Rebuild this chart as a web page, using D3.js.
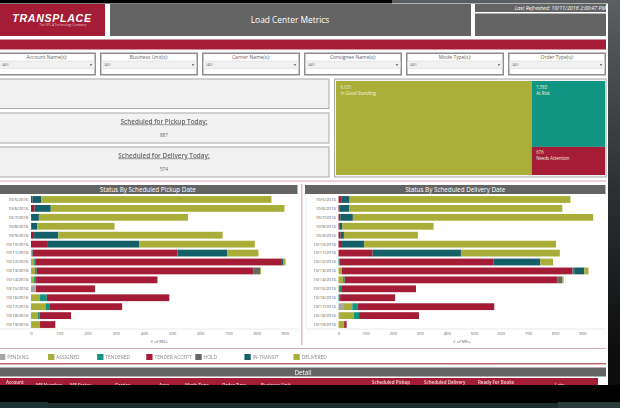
<!DOCTYPE html>
<html>
<head>
<meta charset="utf-8">
<script src="https://d3js.org/d3.v7.min.js"></script>
<style>
    html, body { margin: 0; padding: 0; background: #000; overflow: hidden; }
    svg { display: block; font-family: "Open Sans", sans-serif; }
    #page { filter: blur(0.55px); }
</style>
</head>
<body>
<div id="dash"></div>
<script>
// chart values
var dates = ["10/5/2016", "10/6/2016", "10/7/2016", "10/8/2016", "10/9/2016", "10/10/2016", "10/11/2016", "10/12/2016",
    "10/13/2016", "10/14/2016", "10/15/2016", "10/16/2016", "10/17/2016", "10/18/2016", "10/19/2016"];
var statuses = ["PENDING", "ASSIGNED", "TENDERED", "TENDER ACCEPT", "HOLD", "IN-TRANSIT", "DELIVERED"];
var statusColors = ["#a6a6a6", "#a9ae38", "#109582", "#a51c36", "#666666", "#145f68", "#a9ae38"];

// pickup chart, one list per status
var pickupPending = [0, 0, 0, 0, 0, 0, 0, 0, 0, 0, 18, 0, 0, 0, 0];
var pickupAssigned = [0, 0, 0, 0, 0, 0, 3, 11, 14, 11, 0, 32, 51, 24, 32];
var pickupTendered = [0, 0, 0, 0, 0, 0, 3, 4, 6, 7, 0, 24, 16, 7, 0];
var pickupAccept = [5, 13, 3, 3, 11, 57, 513, 874, 769, 430, 209, 434, 256, 111, 54];
var pickupHold = [0, 0, 0, 0, 0, 0, 0, 0, 23, 0, 0, 0, 0, 0, 0];
var pickupTransit = [32, 57, 25, 19, 86, 326, 176, 4, 0, 0, 0, 0, 0, 0, 0];
var pickupDelivered = [815, 828, 528, 274, 582, 410, 111, 9, 3, 0, 0, 0, 0, 0, 0];

// delivery chart, one list per status
var deliveryPending = [0, 0, 0, 0, 0, 0, 0, 0, 0, 0, 0, 0, 20, 5, 0];
var deliveryAssigned = [0, 0, 0, 0, 0, 0, 0, 0, 13, 17, 2, 0, 31, 51, 21];
var deliveryTendered = [0, 0, 0, 0, 0, 0, 0, 4, 0, 6, 8, 6, 20, 20, 0];
var deliveryAccept = [10, 3, 7, 3, 8, 13, 126, 569, 850, 786, 276, 203, 504, 221, 9];
var deliveryHold = [0, 0, 0, 0, 0, 0, 0, 0, 7, 17, 0, 0, 0, 0, 0];
var deliveryTransit = [31, 37, 46, 11, 12, 82, 326, 172, 37, 0, 0, 0, 0, 0, 0];
var deliveryDelivered = [815, 786, 887, 337, 273, 708, 365, 47, 16, 5, 0, 0, 0, 0, 0];

var xTicks = [0, 100, 200, 300, 400, 500, 600, 700, 800, 900];

// treemap
var standingNames = ["In Good Standing", "At Risk", "Needs Attention"];
var standingValues = [6031, 1583, 676];
var standingLabels = ["6,031", "1,583", "676"];
var standingColors = ["#a9ae38", "#109582", "#a51c36"];

var filterNames = ["Account Name(s):", "Business Unit(s):", "Carrier Name(s):", "Consignee Name(s):", "Mode Type(s):", "Order Type(s):"];
var detailColumns = ["Account", "ME Number", "ME Status", "Carrier", "Area", "Mode Type", "Order Type", "Business Unit",
    "Scheduled Pickup", "Scheduled Delivery", "Ready For Books", "Late"];
var detailColumnX = [6, 36, 70, 115, 159, 185, 222, 261, 372, 424, 478, 555];

var svgWidth = 620;
var svgHeight = 408;

var red = "#a51c36";
var headGray = "#646464";
var frameGray = "#8c8c8c";
var pink = "#dba7b4";

var svg = d3.select("#dash")
    .append("svg")
    .attr("width", svgWidth)
    .attr("height", svgHeight);

var defs = svg.append("defs");
var bgGrad = defs.append("linearGradient")
    .attr("id", "bgGrad")
    .attr("x1", 0).attr("x2", 0).attr("y1", 0).attr("y2", 1);
bgGrad.append("stop").attr("offset", "0%").attr("stop-color", "#5c5f61");
bgGrad.append("stop").attr("offset", "50%").attr("stop-color", "#2c2f31");
bgGrad.append("stop").attr("offset", "92%").attr("stop-color", "#0c0c0c");

defs.append("clipPath").attr("id", "detailClip")
    .append("rect").attr("x", 0).attr("y", 378).attr("width", 598).attr("height", 7);

var page = svg.append("g").attr("id", "page");

// backdrop around the screenshot
page.append("rect").attr("width", svgWidth).attr("height", svgHeight).attr("fill", "#000");
page.append("rect").attr("x", 392).attr("y", 0).attr("width", 228).attr("height", 385).attr("fill", "url(#bgGrad)");
page.append("rect").attr("x", 48).attr("y", 403).attr("width", 510).attr("height", 5).attr("fill", "#1f2c2e");
page.append("rect").attr("x", 0).attr("y", 402).attr("width", 48).attr("height", 6).attr("fill", "#1d3233");
page.append("rect").attr("x", 558).attr("y", 402).attr("width", 62).attr("height", 6).attr("fill", "#2b3a3b");

page.append("rect").attr("x", 0).attr("y", 3.5).attr("width", 608).attr("height", 381.5).attr("fill", "#fff");

// header row
page.append("rect").attr("x", 0).attr("y", 4).attr("width", 105).attr("height", 32).attr("fill", red);
page.append("text").attr("x", 52).attr("y", 21.5).attr("text-anchor", "middle")
    .attr("font-family", "Liberation Sans").attr("font-size", 10.6).attr("font-weight", "bold").attr("font-style", "italic")
    .attr("letter-spacing", 0.7)
    .attr("fill", "#fff").text("TRANSPLACE");
page.append("text").attr("x", 63).attr("y", 25.5).attr("text-anchor", "middle")
    .attr("font-size", 3.2).attr("fill", "#e6c5cc").text("The XPL A Technology Company");

page.append("rect").attr("x", 110).attr("y", 4).attr("width", 361).attr("height", 32).attr("fill", headGray);
page.append("text").attr("x", 290).attr("y", 22.8).attr("text-anchor", "middle")
    .attr("font-size", 8.4).attr("fill", "#fff").text("Load Center Metrics");

page.append("rect").attr("x", 475).attr("y", 4).attr("width", 131).attr("height", 8).attr("fill", headGray);
page.append("rect").attr("x", 475).attr("y", 13.5).attr("width", 131).attr("height", 22.5).attr("fill", headGray);
page.append("text").attr("x", 606).attr("y", 10).attr("text-anchor", "end")
    .attr("font-size", 5.3).attr("font-style", "italic").attr("fill", "#fff").text("Last Refreshed: 10/11/2016 2:00:47 PM");

page.append("rect").attr("x", 0).attr("y", 39.5).attr("width", 606).attr("height", 10).attr("fill", red);

// filter boxes
var filterX = d3.scaleBand().domain(filterNames).range([-2, 606]).paddingInner(0.04);

var filters = page.selectAll(".filter")
    .data(filterNames)
    .enter()
    .append("g")
    .attr("class", "filter")
    .attr("transform", d => `translate(${filterX(d)}, 52.5)`);

filters.append("rect")
    .attr("x", 0.75).attr("y", 0.75)
    .attr("width", filterX.bandwidth() - 1.5).attr("height", 21.5)
    .attr("fill", "#fff").attr("stroke", frameGray).attr("stroke-width", 1.5);
filters.append("rect")
    .attr("x", 1.5).attr("y", 8.5)
    .attr("width", filterX.bandwidth() - 3).attr("height", 7.5)
    .attr("fill", "#f1f1f1").attr("stroke", "#cfcfcf").attr("stroke-width", 0.4);
filters.append("text")
    .attr("x", filterX.bandwidth() / 2).attr("y", 6.6)
    .attr("text-anchor", "middle").attr("font-size", 5).attr("fill", "#666")
    .text(d => d);
filters.append("text")
    .attr("x", 4).attr("y", 13.6)
    .attr("font-size", 3.8).attr("fill", "#777").text("(All)");
filters.append("path")
    .attr("d", d3.symbol(d3.symbolTriangle, 3))
    .attr("transform", `translate(${filterX.bandwidth() - 5}, 12.2) rotate(180)`)
    .attr("fill", "#777");

// KPI boxes
function kpiBox(y, h, title, value) {
    page.append("rect").attr("x", -2).attr("y", y).attr("width", 331).attr("height", h)
        .attr("fill", "#f2f2f2").attr("stroke", "#a8a8a8").attr("stroke-width", 1);
    if (title) {
        page.append("text").attr("x", 164).attr("y", y + 10.5).attr("text-anchor", "middle")
            .attr("font-size", 6.4).attr("font-weight", 600).attr("fill", "#666")
            .attr("text-decoration", "underline").text(title);
        page.append("text").attr("x", 164).attr("y", y + 23.5).attr("text-anchor", "middle")
            .attr("font-size", 4.8).attr("fill", "#666").text(value);
    }
}
kpiBox(79, 29.5);
kpiBox(113, 30, "Scheduled for Pickup Today:", "887");
kpiBox(147, 30, "Scheduled for Delivery Today:", "574");

// treemap
page.append("rect").attr("x", 334.5).attr("y", 79).attr("width", 271.5).attr("height", 98)
    .attr("fill", "#f2f2f2").attr("stroke", "#a8a8a8").attr("stroke-width", 1);

var standingRoot = d3.hierarchy({
    children: [
        { name: 0 },
        { children: [{ name: 1 }, { name: 2 }] }
    ]
}).sum(d => d.name === undefined ? 0 : standingValues[d.name]);

d3.treemap()
    .tile(d3.treemapSliceDice)
    .size([269, 94])(standingRoot);

var cells = page.append("g")
    .attr("transform", "translate(336, 81)")
    .selectAll("g")
    .data(standingRoot.leaves())
    .enter()
    .append("g")
    .attr("transform", d => `translate(${d.x0}, ${d.y0})`);

cells.append("rect")
    .attr("width", d => d.x1 - d.x0)
    .attr("height", d => d.y1 - d.y0)
    .attr("fill", d => standingColors[d.data.name]);
cells.append("text")
    .attr("x", 4.5).attr("y", 7.5)
    .attr("font-size", 4.4).attr("fill", "#f3f3d8")
    .text(d => standingLabels[d.data.name]);
cells.append("text")
    .attr("x", 4.5).attr("y", 13.5)
    .attr("font-size", 4.4).attr("fill", "#f3f3d8")
    .text(d => standingNames[d.data.name]);

// frames of the chart area
page.append("line").attr("x1", 0).attr("x2", 606).attr("y1", 181).attr("y2", 181).attr("stroke", pink).attr("stroke-width", 1.2);
page.append("line").attr("x1", 0).attr("x2", 606).attr("y1", 348.5).attr("y2", 348.5).attr("stroke", pink).attr("stroke-width", 1.2);
page.append("line").attr("x1", 301.8).attr("x2", 301.8).attr("y1", 184).attr("y2", 345).attr("stroke", pink).attr("stroke-width", 1.2);
page.append("line").attr("x1", 306).attr("x2", 306).attr("y1", 194).attr("y2", 329).attr("stroke", "#e4e4e4").attr("stroke-width", 0.6);

function drawBars(opts) {
    var g = page.append("g");

    g.append("rect").attr("x", opts.headLeft).attr("y", 185).attr("width", opts.headRight - opts.headLeft).attr("height", 9)
        .attr("fill", headGray);
    g.append("text").attr("x", (opts.headLeft + opts.headRight) / 2).attr("y", 192)
        .attr("text-anchor", "middle").attr("font-size", 6.3).attr("fill", "#fff")
        .text(opts.title);

    var xScale = d3.scaleLinear().domain([0, 900]).range([opts.zero, opts.nine]);
    var yScale = d3.scaleBand().domain(dates).range([195, 329]).paddingInner(0.24).paddingOuter(0.12);

    var stack = d3.stack()
        .keys(d3.range(statuses.length))
        .value((date, s) => opts.series[s][dates.indexOf(date)]);

    g.selectAll(".layer")
        .data(stack(dates))
        .enter()
        .append("g")
        .attr("fill", d => statusColors[d.key])
        .selectAll("rect")
        .data(d => d.map(p => ({ start: p[0], end: p[1], date: p.data })))
        .enter()
        .append("rect")
        .attr("x", d => xScale(d.start))
        .attr("y", d => yScale(d.date))
        .attr("width", d => xScale(d.end) - xScale(d.start))
        .attr("height", yScale.bandwidth());

    var leftAxis = d3.axisLeft(yScale).tickSize(0).tickPadding(0);
    var yAxis = g.append("g")
        .attr("transform", `translate(${opts.labelRight}, 0)`)
        .call(leftAxis);
    yAxis.select(".domain").remove();
    yAxis.selectAll("text").attr("font-size", 4.3).attr("font-family", "Open Sans").attr("fill", "#555");

    var bottomAxis = d3.axisBottom(xScale).tickValues(xTicks).tickSize(0).tickPadding(3).tickFormat(d3.format("d"));
    var xAxis = g.append("g")
        .attr("transform", "translate(0, 329)")
        .call(bottomAxis);
    xAxis.select(".domain")
        .attr("d", `M${opts.headLeft + 1},0H${opts.headRight}`)
        .attr("stroke", "#e2e2e2").attr("stroke-width", 0.7);
    xAxis.selectAll("text").attr("font-size", 4.3).attr("font-family", "Open Sans").attr("fill", "#666");

    g.append("text").attr("x", (xScale(0) + xScale(900)) / 2 + 1).attr("y", 342.5)
        .attr("text-anchor", "middle").attr("font-size", 4.3).attr("fill", "#666").text("# of MEs");
}

drawBars({
    title: "Status By Scheduled Pickup Date",
    headLeft: -2, headRight: 297.5,
    labelRight: 28.5, zero: 31, nine: 285,
    series: [pickupPending, pickupAssigned, pickupTendered, pickupAccept, pickupHold, pickupTransit, pickupDelivered]
});

drawBars({
    title: "Status By Scheduled Delivery Date",
    headLeft: 305, headRight: 605.5,
    labelRight: 336, zero: 338.5, nine: 582.3,
    series: [deliveryPending, deliveryAssigned, deliveryTendered, deliveryAccept, deliveryHold, deliveryTransit, deliveryDelivered]
});

// legend
var legendX = d3.scalePoint().domain(statuses).range([-1, 293.5]);
var legend = page.selectAll(".legend")
    .data(statuses)
    .enter()
    .append("g")
    .attr("class", "legend")
    .attr("transform", d => `translate(${legendX(d)}, 354)`);
legend.append("rect").attr("width", 6.3).attr("height", 6).attr("fill", (d, i) => statusColors[i]);
legend.append("text").attr("x", 8.2).attr("y", 4.8).attr("font-size", 4.9).attr("fill", "#888").text(d => d);

// detail table
page.append("line").attr("x1", 0).attr("x2", 606).attr("y1", 363.8).attr("y2", 363.8).attr("stroke", red).attr("stroke-width", 1);
page.append("rect").attr("x", 0).attr("y", 367.5).attr("width", 606).attr("height", 9).attr("fill", headGray);
page.append("text").attr("x", 303).attr("y", 374.5).attr("text-anchor", "middle")
    .attr("font-size", 6.3).attr("fill", "#fff").text("Detail");
page.append("rect").attr("x", 0).attr("y", 378).attr("width", 598).attr("height", 7).attr("fill", red);

page.append("g")
    .attr("clip-path", "url(#detailClip)")
    .selectAll("text")
    .data(detailColumns)
    .enter()
    .append("text")
    .attr("x", (d, i) => detailColumnX[i])
    .attr("y", (d, i) => i == 0 || (i >= 8 && i <= 10) ? 384 : 387)
    .attr("font-size", 4.5).attr("font-weight", 600).attr("fill", "#f0d7dc")
    .text(d => d);
</script>
</body>
</html>
